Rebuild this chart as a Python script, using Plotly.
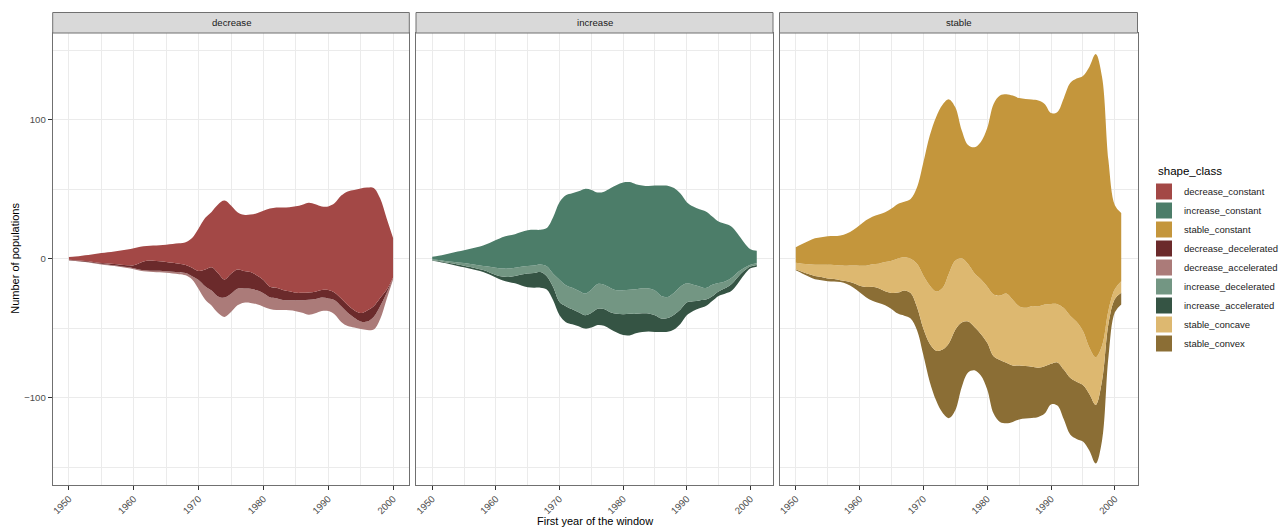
import plotly.graph_objects as go

# ---------------- data (number of populations per shape class, smoothed) ----------------
YEARS_DECREASE = list(range(1950, 2001))
YEARS_INCREASE = list(range(1950, 2002))
YEARS_STABLE = list(range(1950, 2002))

decrease_constant = [1.9, 2.7, 3.7, 4.5, 5.9, 7.2, 8.1, 9.0, 10.2, 11.3,
                     12.2, 11.4, 10.6, 10.8, 11.6, 12.5, 13.6, 14.7, 16.4, 21.4,
                     30.6, 37.1, 39.9, 49.5, 56.7, 49.1, 41.2, 40.4, 41.4, 44.8,
                     49.7, 56.2, 57.7, 59.3, 60.5, 62.2, 63.4, 64.6, 63.0, 60.2,
                     60.2, 64.6, 74.1, 81.8, 86.6, 89.7, 88.4, 85.1, 71.7, 51.4, 28.3]
decrease_decelerated = [0.3, 0.3, 0.4, 0.5, 0.5, 0.5, 0.8, 1.0, 1.1, 1.3,
                        2.2, 5.1, 6.9, 7.2, 6.9, 6.6, 6.4, 6.1, 5.8, 6.1,
                        6.5, 12.0, 16.7, 16.7, 13.1, 14.3, 13.8, 12.6, 11.9, 10.7,
                        9.6, 7.6, 7.6, 7.2, 6.5, 5.3, 5.3, 5.2, 5.2, 5.3,
                        6.0, 5.3, 5.5, 5.5, 5.3, 6.0, 8.0, 7.7, 6.0, 2.4, 0.2]
decrease_accelerated = [0.2, 0.3, 0.3, 0.3, 0.4, 0.5, 0.5, 0.5, 0.6, 0.7,
                        0.7, 0.7, 0.7, 0.9, 1.1, 1.2, 1.3, 1.5, 1.7, 2.4,
                        6.4, 9.5, 10.8, 12.0, 13.9, 13.2, 12.0, 10.3, 10.3, 10.1,
                        9.6, 8.4, 8.4, 7.2, 7.2, 7.9, 9.1, 10.8, 10.3, 9.8,
                        9.1, 10.3, 11.3, 9.6, 7.1, 5.5, 6.0, 9.1, 9.3, 4.4, 1.2]

increase_constant = [1.9, 3.1, 4.7, 6.2, 7.8, 9.3, 11.0, 12.9, 14.8, 17.1,
                     19.8, 22.5, 23.7, 24.1, 25.0, 25.8, 25.6, 24.9, 27.5, 40.7,
                     55.7, 64.6, 68.0, 71.5, 75.3, 71.8, 65.8, 67.0, 71.7, 75.8,
                     77.5, 77.5, 75.6, 74.0, 73.7, 75.6, 79.5, 80.1, 75.3, 67.0,
                     58.4, 56.3, 55.5, 55.1, 49.1, 44.3, 41.4, 37.1, 27.7, 18.4, 11.2, 9.0]
increase_decelerated = [0.5, 0.7, 0.9, 1.1, 1.5, 1.9, 2.2, 2.5, 2.9, 4.1,
                        5.3, 5.8, 6.0, 6.0, 5.6, 5.3, 5.4, 5.5, 7.2, 9.6,
                        16.0, 15.1, 15.5, 15.5, 15.6, 16.7, 17.9, 17.4, 17.5, 16.8,
                        17.3, 17.3, 17.7, 17.9, 17.9, 17.7, 16.2, 15.1, 15.8, 16.3,
                        13.8, 11.9, 10.0, 8.3, 8.3, 6.0, 5.0, 4.5, 3.5, 2.0, 1.2, 1.2]
increase_accelerated = [0.4, 0.5, 0.6, 0.8, 1.0, 1.2, 1.3, 1.3, 1.4, 1.5,
                        1.7, 2.7, 3.6, 5.3, 7.8, 10.0, 10.6, 11.2, 9.5, 9.5,
                        9.6, 11.5, 10.8, 10.0, 9.6, 10.5, 11.6, 12.1, 12.2, 13.5,
                        15.0, 15.5, 14.0, 13.5, 13.0, 12.1, 9.7, 9.9, 10.6, 10.4,
                        9.2, 6.9, 5.6, 4.6, 3.5, 3.3, 3.8, 4.8, 4.6, 3.0, 1.4, 1.3]

stable_constant = [11.3, 14.2, 16.8, 19.0, 19.7, 20.4, 20.8, 21.6, 23.1, 25.5,
                   29.1, 32.7, 34.3, 35.4, 35.8, 37.5, 39.2, 39.9, 43.0, 55.0,
                   81.5, 107.9, 125.6, 131.9, 125.2, 110.3, 92.1, 85.6, 90.6, 98.8,
                   113.9, 137.1, 143.9, 143.4, 146.9, 149.8, 150.3, 148.6, 148.1, 144.3,
                   137.3, 138.3, 151.0, 167.3, 175.0, 183.5, 201.8, 218.2, 193.0, 107.8, 60.3, 49.0]
stable_concave = [4.8, 5.7, 7.0, 8.1, 8.9, 9.9, 10.1, 10.6, 11.3, 12.7,
                  14.4, 15.3, 16.1, 17.7, 21.1, 23.2, 24.6, 23.9, 24.7, 31.1,
                  38.3, 41.8, 42.6, 44.2, 50.2, 49.8, 46.2, 41.4, 38.7, 39.4,
                  40.6, 44.5, 46.4, 49.8, 47.2, 42.6, 41.9, 43.6, 44.1, 44.5,
                  43.1, 41.9, 44.3, 44.7, 43.1, 38.9, 33.5, 34.2, 25.1, 9.6, 7.1, 8.3]
stable_convex = [0.6, 1.3, 1.9, 2.3, 2.3, 1.9, 1.7, 1.2, 1.9, 3.2,
                 4.7, 7.3, 10.2, 10.6, 10.0, 11.5, 15.1, 18.2, 18.4, 16.8,
                 19.1, 27.5, 35.9, 45.5, 53.9, 57.9, 46.6, 36.6, 31.1, 29.9,
                 33.5, 41.2, 44.5, 43.5, 40.6, 38.8, 37.8, 36.8, 35.4, 34.0,
                 29.2, 31.1, 35.8, 40.7, 41.1, 40.7, 40.7, 42.3, 43.1, 23.9, 9.6, 8.4]

LEGEND_TITLE = "shape_class"
LEGEND_ORDER = ["decrease_constant", "increase_constant", "stable_constant",
                "decrease_decelerated", "decrease_accelerated",
                "increase_decelerated", "increase_accelerated",
                "stable_concave", "stable_convex"]

COLORS = {
    "decrease_constant": "#A34846",
    "increase_constant": "#4C7D69",
    "stable_constant": "#C4963C",
    "decrease_decelerated": "#6B2A2B",
    "decrease_accelerated": "#AB7B79",
    "increase_decelerated": "#739683",
    "increase_accelerated": "#355444",
    "stable_concave": "#DDB870",
    "stable_convex": "#8B6E35",
}

# panels: layers listed from the bottom of the stream to the top
PANELS = [
    ("decrease", YEARS_DECREASE, [("decrease_accelerated", decrease_accelerated),
                                  ("decrease_decelerated", decrease_decelerated),
                                  ("decrease_constant", decrease_constant)]),
    ("increase", YEARS_INCREASE, [("increase_accelerated", increase_accelerated),
                                  ("increase_decelerated", increase_decelerated),
                                  ("increase_constant", increase_constant)]),
    ("stable", YEARS_STABLE, [("stable_convex", stable_convex),
                              ("stable_concave", stable_concave),
                              ("stable_constant", stable_constant)]),
]

# ---------------- layout geometry ----------------
W, H = 1281, 529
X_DOMAINS = [[52.7 / W, 409.3 / W], [416.0 / W, 773.0 / W], [779.5 / W, 1137.5 / W]]
Y_DOMAIN = [(H - 484.5) / H, (H - 33.0) / H]
STRIP_TOP = (H - 12.5) / H
Y_RANGE = [-162.4, 162.4]

FONT = "Liberation Sans, Arial, Helvetica, sans-serif"
GRID = "#EBEBEB"
BORDER = "#707070"

fig = go.Figure()

for i, (panel, years, layers) in enumerate(PANELS):
    xa = "x" if i == 0 else f"x{i + 1}"
    ya = "y" if i == 0 else f"y{i + 1}"
    total = [sum(v) for v in zip(*[vals for _, vals in layers])]
    offset = [-t / 2 for t in total]   # mirror (centred) streamgraph baseline
    fig.add_trace(go.Scatter(
        x=years, y=offset, stackgroup=panel, mode="lines",
        line=dict(width=0, shape="spline", smoothing=1.0),
        fillcolor="rgba(0,0,0,0)", showlegend=False, hoverinfo="skip",
        xaxis=xa, yaxis=ya))
    for cls, vals in layers:
        fig.add_trace(go.Scatter(
            x=years, y=vals, stackgroup=panel, mode="lines", name=cls,
            line=dict(width=0, shape="spline", smoothing=1.0, color=COLORS[cls]),
            fillcolor=COLORS[cls], showlegend=False,
            xaxis=xa, yaxis=ya))

# legend entries (square keys, ggplot-like)
for cls in LEGEND_ORDER:
    fig.add_trace(go.Scatter(
        x=[None], y=[None], mode="markers", name=cls,
        marker=dict(symbol="square", size=17, color=COLORS[cls], line=dict(width=0)),
        showlegend=True, xaxis="x", yaxis="y"))

layout = dict(
    width=W, height=H,
    margin=dict(l=0, r=0, t=0, b=0, autoexpand=False),
    paper_bgcolor="white", plot_bgcolor="white",
    font=dict(family=FONT, color="#1A1A1A"),
    showlegend=True,
    legend=dict(
        font=dict(size=9.5, color="#1A1A1A"),
        x=1144 / W, xanchor="left", y=(H - 177) / H, yanchor="top",
        traceorder="normal",
        tracegroupgap=0, itemsizing="trace", bgcolor="rgba(0,0,0,0)",
    ),
)

for i, (panel, years, layers) in enumerate(PANELS):
    suffix = "" if i == 0 else str(i + 1)
    xmin, xmax = years[0], years[-1]
    pad = 0.05 * (xmax - xmin)
    layout["xaxis" + suffix] = dict(
        domain=X_DOMAINS[i], anchor="y" + suffix,
        range=[xmin - pad, xmax + pad],
        tick0=1950, dtick=10, tickangle=-45,
        ticks="outside", ticklen=4, tickcolor="#333333", tickwidth=1,
        tickfont=dict(size=9.6, color="#4D4D4D", family=FONT),
        showgrid=True, gridcolor=GRID, gridwidth=1,
        minor=dict(dtick=5, tick0=1950, showgrid=True, gridcolor=GRID, gridwidth=0.6, ticks=""),
        showline=True, mirror=True, linecolor=BORDER, linewidth=1,
        zeroline=False, automargin=False, fixedrange=True,
    )
    layout["yaxis" + suffix] = dict(
        domain=Y_DOMAIN, anchor="x" + suffix, range=Y_RANGE,
        tick0=0, dtick=100,
        ticks="outside" if i == 0 else "", ticklen=4, tickcolor="#333333", tickwidth=1,
        showticklabels=(i == 0),
        tickfont=dict(size=9.6, color="#4D4D4D", family=FONT),
        showgrid=True, gridcolor=GRID, gridwidth=1,
        minor=dict(dtick=50, tick0=0, showgrid=True, gridcolor=GRID, gridwidth=0.6, ticks=""),
        showline=True, mirror=True, linecolor=BORDER, linewidth=1,
        zeroline=False, automargin=False, fixedrange=True,
    )

shapes = []
annotations = []
for i, (panel, years, layers) in enumerate(PANELS):
    x0, x1 = X_DOMAINS[i]
    shapes.append(dict(type="rect", xref="paper", yref="paper",
                       x0=x0, x1=x1, y0=Y_DOMAIN[1], y1=STRIP_TOP,
                       fillcolor="#D9D9D9", line=dict(color=BORDER, width=1), layer="above"))
    annotations.append(dict(text=panel, xref="paper", yref="paper",
                            x=(x0 + x1) / 2, y=(Y_DOMAIN[1] + STRIP_TOP) / 2,
                            xanchor="center", yanchor="middle", showarrow=False,
                            font=dict(size=9.6, color="#1A1A1A", family=FONT)))

annotations.append(dict(text="First year of the window", xref="paper", yref="paper",
                        x=(X_DOMAINS[0][0] + X_DOMAINS[2][1]) / 2, y=(H - 521) / H,
                        xanchor="center", yanchor="middle", showarrow=False,
                        font=dict(size=11, color="#000000", family=FONT)))
annotations.append(dict(text="Number of populations", xref="paper", yref="paper",
                        x=15 / W, y=(Y_DOMAIN[0] + Y_DOMAIN[1]) / 2, textangle=-90,
                        xanchor="center", yanchor="middle", showarrow=False,
                        font=dict(size=11, color="#000000", family=FONT)))
# legend title, placed like ggplot's (left-aligned with the keys)
annotations.append(dict(text=LEGEND_TITLE, xref="paper", yref="paper",
                        x=1156 / W, y=(H - 171) / H,
                        xanchor="left", yanchor="middle", showarrow=False,
                        font=dict(size=11.5, color="#000000", family=FONT)))

layout["shapes"] = shapes
layout["annotations"] = annotations
fig.update_layout(**layout)

# remove the default page margin so the 1281x529 figure fills the window exactly
fig.write_html("out.html", config={"displayModeBar": False},
               post_script="document.body.style.margin='0px';")
